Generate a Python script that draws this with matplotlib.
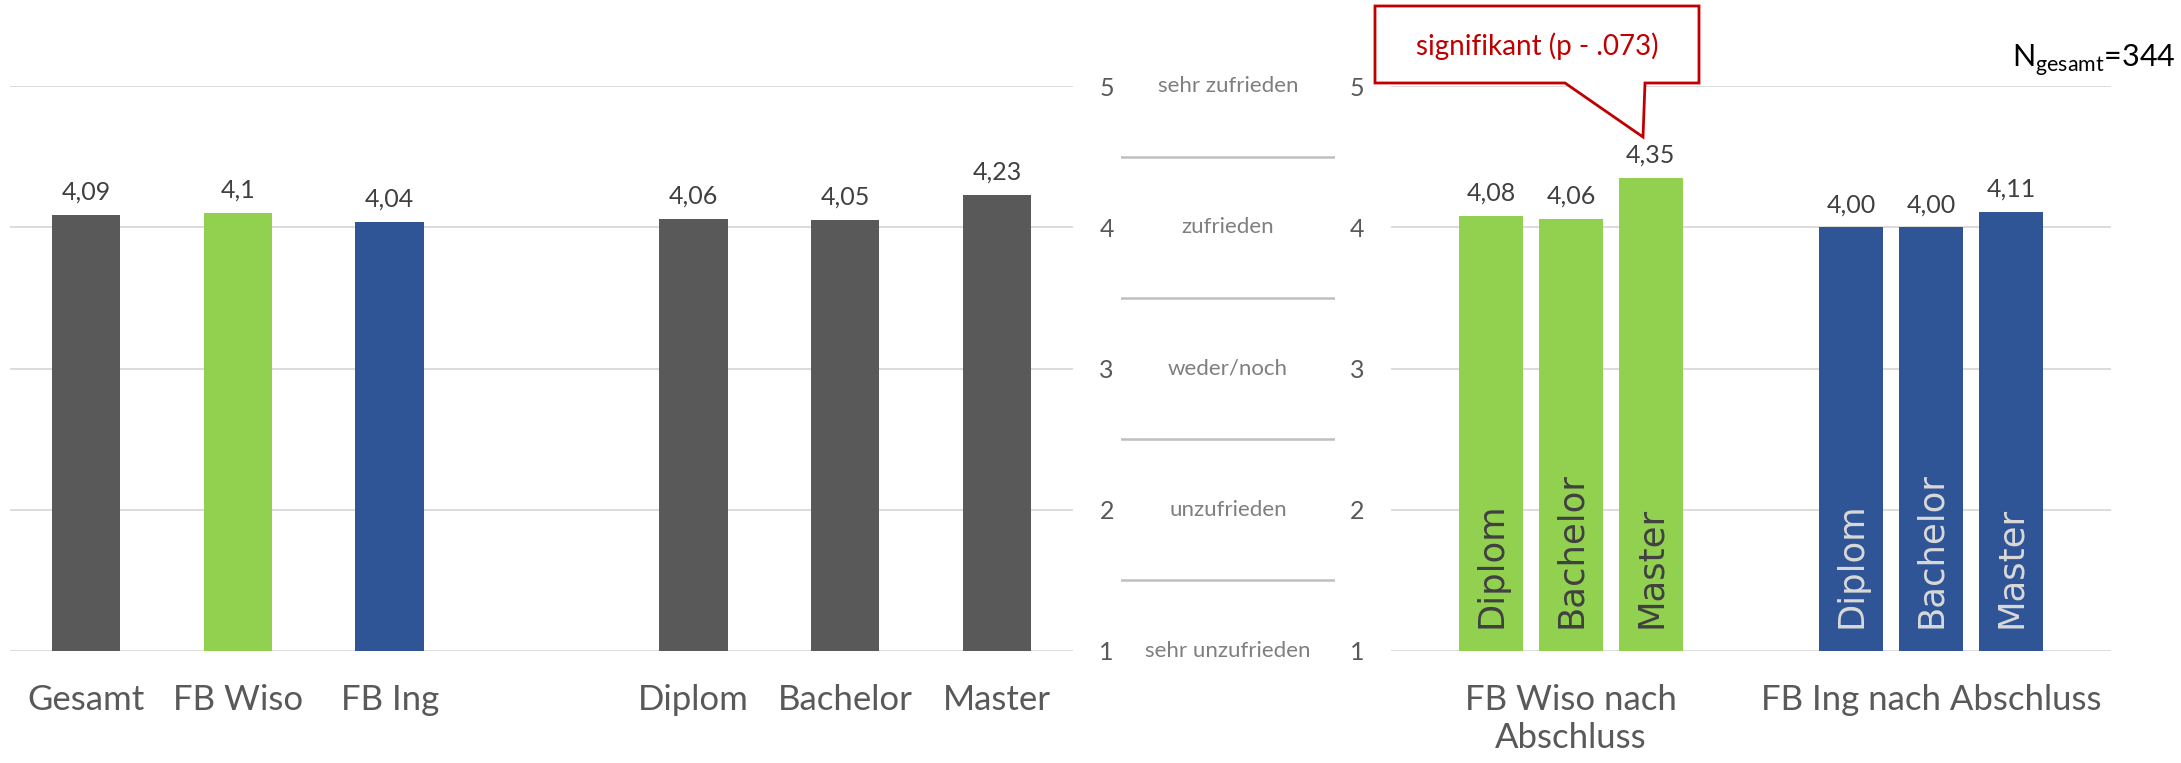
import matplotlib
matplotlib.use("Agg")
import matplotlib.pyplot as plt
from matplotlib.patches import Polygon
import numpy as np

plt.rcParams['font.family'] = ['Lato', 'DejaVu Sans']

# Daten linkes Diagramm
left_labels = ["Gesamt", "FB Wiso", "FB Ing", "Diplom", "Bachelor", "Master"]
left_pos = [0, 1, 2, 4, 5, 6]
left_values = [4.09, 4.10, 4.04, 4.06, 4.05, 4.23]
left_texts = ["4,09", "4,1", "4,04", "4,06", "4,05", "4,23"]
left_colors = ["#595959", "#92D050", "#2F5597", "#595959", "#595959", "#595959"]

# Daten rechtes Diagramm
groups = ["FB Wiso nach\nAbschluss", "FB Ing nach Abschluss"]
abschluss = ["Diplom", "Bachelor", "Master"]
wiso_values = [4.08, 4.06, 4.35]
ing_values = [4.00, 4.00, 4.11]
wiso_texts = ["4,08", "4,06", "4,35"]
ing_texts = ["4,00", "4,00", "4,11"]

scale_ticks = [1, 2, 3, 4, 5]
scale_labels = ["sehr unzufrieden", "unzufrieden", "weder/noch", "zufrieden", "sehr zufrieden"]

W, H = 2181, 763
fig = plt.figure(figsize=(W / 100, H / 100), dpi=100)

grid_c = "#D9D9D9"
txt_c = "#595959"

y0 = (H - 651) / H
hh = 565 / H

# linkes Diagramm
ax1 = fig.add_axes([10 / W, y0, 1063 / W, hh])
bars = ax1.bar(left_pos, np.array(left_values) - 1, bottom=1, width=0.45, color=left_colors)
for b, t in zip(bars, left_texts):
    ax1.annotate(t, (b.get_x() + b.get_width() / 2, b.get_y() + b.get_height()),
                 xytext=(0, 8), textcoords="offset points", ha="center", va="bottom",
                 fontsize=18, color="#404040")
ax1.set_xlim(-0.5, 6.5)
ax1.set_ylim(1, 5)
ax1.set_xticks(left_pos)
ax1.set_xticklabels(left_labels, fontsize=25, color=txt_c)
ax1.yaxis.tick_right()
ax1.set_yticks(scale_ticks)
ax1.tick_params(axis="y", length=0, pad=19, labelsize=18, labelcolor=txt_c)
ax1.tick_params(axis="x", length=0, pad=24)
ax1.grid(axis="y", color=grid_c, lw=1.3)
ax1.set_axisbelow(True)
for s in ax1.spines.values():
    s.set_visible(False)

# Skala in der Mitte
axm = fig.add_axes([1121 / W, y0, 214 / W, hh])
axm.set_xlim(0, 1)
axm.set_ylim(1, 5)
axm.axis("off")
for v, lab in zip(scale_ticks, scale_labels):
    axm.text(0.5, v, lab, ha="center", va="center", fontsize=16, color="#7F7F7F")
for v in scale_ticks[:-1]:
    axm.axhline(v + 0.5, color="#BFBFBF", lw=1.8)

# rechtes Diagramm
ax2 = fig.add_axes([1391 / W, y0, 720 / W, hh])
x = np.arange(len(groups))
off = 0.222
bw = 0.178
for i, (vals, texts, col, tc) in enumerate([(wiso_values, wiso_texts, "#92D050", "#404040"),
                                             (ing_values, ing_texts, "#2F5597", "#D9D9D9")]):
    for j, (v, t, name) in enumerate(zip(vals, texts, abschluss)):
        xc = x[i] + (j - 1) * off
        ax2.bar(xc, v - 1, bottom=1, width=bw, color=col)
        ax2.annotate(t, (xc, v), xytext=(0, 8), textcoords="offset points",
                     ha="center", va="bottom", fontsize=18, color="#404040")
        ax2.text(xc, 1.16, name, rotation=90, ha="center", va="bottom",
                 fontsize=25.5, color=tc, family="DejaVu Sans")
ax2.set_xlim(-0.5, 1.5)
ax2.set_ylim(1, 5)
ax2.set_xticks(x)
ax2.set_xticklabels(groups, fontsize=25, color=txt_c)
ax2.set_yticks(scale_ticks)
ax2.tick_params(axis="y", length=0, pad=19, labelsize=18, labelcolor=txt_c)
ax2.tick_params(axis="x", length=0, pad=24)
ax2.grid(axis="y", color=grid_c, lw=1.3)
ax2.set_axisbelow(True)
for s in ax2.spines.values():
    s.set_visible(False)

# Sprechblase
pts = [(1375, 6), (1699, 6), (1699, 83), (1645, 83), (1643, 137), (1565, 83), (1375, 83)]
pts = [(px / W, 1 - py / H) for px, py in pts]
fig.add_artist(Polygon(pts, closed=True, facecolor="white", edgecolor="#C00000",
                       lw=2, transform=fig.transFigure))
fig.text(1537 / W, 1 - 46 / H, "signifikant (p - .073)", ha="center", va="center",
         fontsize=20, color="#C00000")

fig.text(2176 / W, 1 - 60 / H, r"N$_\mathregular{gesamt}$=344", ha="right", va="center",
         fontsize=22, color="black")

fig.savefig("out.png", dpi=100)
